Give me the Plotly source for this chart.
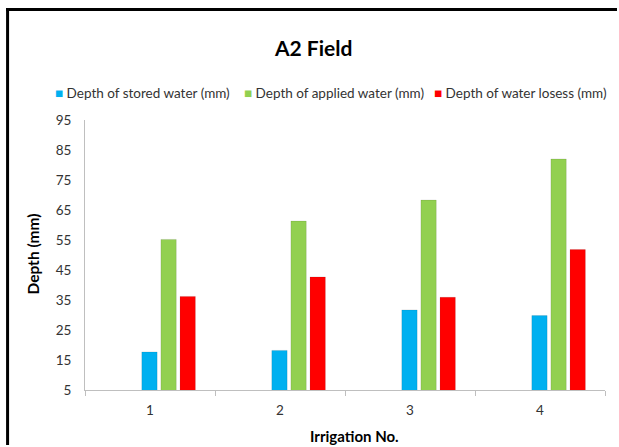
import plotly.graph_objects as go

# Irrigation events and measured depths (mm)
irrigations = ["1", "2", "3", "4"]
stored_water = [17.7, 18.2, 31.7, 29.8]
applied_water = [55.2, 61.3, 68.3, 82.0]
water_losses = [36.2, 42.7, 35.9, 51.8]

series_names = [
    "Depth of stored water (mm)",
    "Depth of applied water (mm)",
    "Depth of water losess (mm)",
]
series_colors = ["#00B0F0", "#92D050", "#FF0000"]
y_ticks = [5, 15, 25, 35, 45, 55, 65, 75, 85, 95]

W, H = 619, 447
L, R, T, B = 84.5, 14, 120, 57
PW, PH = W - L - R, H - T - B


def px_x(x):
    return (x - L) / PW


def px_y(y):
    return (H - B - y) / PH


FONT = "Lato"
TEXT = "#333333"

fig = go.Figure()
slot = 0.147
bar_w = 0.118
first_offset = -0.063
for i, (name, vals, col) in enumerate(
    zip(series_names, [stored_water, applied_water, water_losses], series_colors)
):
    fig.add_trace(
        go.Bar(
            x=irrigations,
            y=vals,
            name=name,
            marker=dict(color=col, line=dict(color="rgba(0,0,0,0.10)", width=1)),
            width=bar_w,
            offset=first_offset + i * slot,
            showlegend=False,
        )
    )

fig.update_layout(
    width=W,
    height=H,
    margin=dict(l=L, r=R, t=T, b=B),
    paper_bgcolor="white",
    plot_bgcolor="white",
    barmode="overlay",
    font=dict(family=FONT, size=13, color=TEXT),
    xaxis=dict(
        type="category",
        range=[-0.5, 3.5],
        showline=True,
        linecolor="#BFBFBF",
        linewidth=1,
        ticks="outside",
        tickson="boundaries",
        ticklen=5,
        tickcolor="#BFBFBF",
        showgrid=False,
        ticklabelstandoff=8,
        tickfont=dict(family=FONT, size=13.5, color=TEXT),
    ),
    yaxis=dict(
        range=[5, 95],
        tickvals=y_ticks,
        showline=True,
        linecolor="#BFBFBF",
        linewidth=1,
        showgrid=False,
        zeroline=False,
        ticks="",
        ticklabelstandoff=10,
        tickfont=dict(family=FONT, size=13.5, color=TEXT),
    ),
)

# title
fig.add_annotation(
    text="<b>A2 Field</b>", xref="paper", yref="paper",
    x=px_x(313), y=px_y(47), xanchor="center", yanchor="middle", showarrow=False,
    font=dict(family=FONT, size=21, color="#000000"),
)

# legend row built from the series names and colours
legend_x = [52, 242, 432]
for name, col, lx in zip(series_names, series_colors, legend_x):
    fig.add_annotation(
        text=f'<span style="color:{col}">■</span> {name}',
        xref="paper", yref="paper", x=px_x(lx), y=px_y(93),
        xanchor="left", yanchor="middle", showarrow=False,
        font=dict(family=FONT, size=13.5, color=TEXT),
    )

# axis titles
fig.add_annotation(
    text="<b>Depth (mm)</b>", xref="paper", yref="paper",
    x=px_x(32), y=px_y(254), xanchor="center", yanchor="middle",
    textangle=-90, showarrow=False,
    font=dict(family=FONT, size=15.5, color="#000000"),
)
fig.add_annotation(
    text="<b>Irrigation No.</b>", xref="paper", yref="paper",
    x=px_x(354), y=px_y(436), xanchor="center", yanchor="middle", showarrow=False,
    font=dict(family=FONT, size=15, color="#000000"),
)

# outer frame: top and left edges of the chart border, kept inside the page
for x0, y0, x1, y1 in [(5.5, 9.5, 617, 9.5), (7, 8, 7, 445)]:
    fig.add_shape(
        type="line", xref="paper", yref="paper",
        x0=px_x(x0), x1=px_x(x1), y0=px_y(y0), y1=px_y(y1),
        line=dict(color="#000000", width=3), layer="above",
    )

fig.write_html("out.html")
